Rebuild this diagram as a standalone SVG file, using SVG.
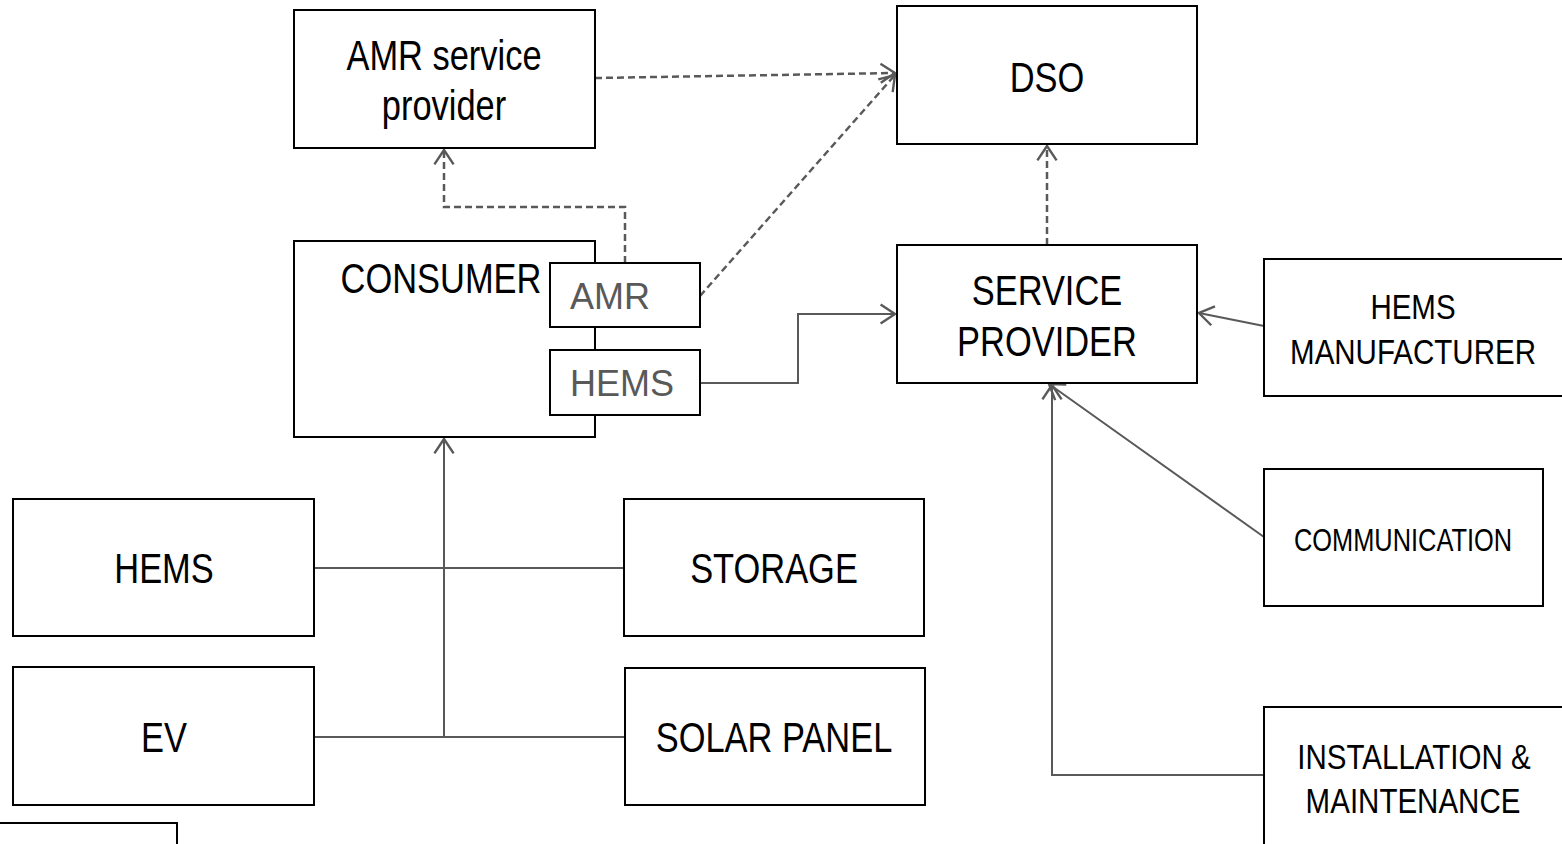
<svg xmlns="http://www.w3.org/2000/svg" width="1562" height="844" viewBox="0 0 1562 844">
<style>
.box{fill:#fff;stroke:#000;stroke-width:2}
.t{font-family:"Liberation Sans",Arial,sans-serif;fill:#000;text-anchor:middle;font-size:42px}
.m{font-size:36px}
.s{font-size:31px}
.g{font-family:"Liberation Sans",Arial,sans-serif;fill:#595959;font-size:36px}
.c{fill:none;stroke:#595959;stroke-width:2}
.d{stroke-dasharray:7,4;stroke-width:2.5}
</style>
<defs>
<marker id="arr" markerUnits="userSpaceOnUse" markerWidth="24" markerHeight="24" viewBox="-14 -10 16 20" refX="0" refY="0" orient="auto">
<path d="M-12,-8 L0,0 L-12,8" fill="none" stroke="#595959" stroke-width="2"/>
</marker>
</defs>
<g id="connectors">
<path class="c d" d="M595,78 L895,73" marker-end="url(#arr)"/>
<path class="c d" d="M700,296 L895,75" marker-end="url(#arr)"/>
<path class="c d" d="M625,263 L625,207 L444,207 L444,150" marker-end="url(#arr)"/>
<path class="c d" d="M1047,245 L1047,146" marker-end="url(#arr)"/>
<path class="c" d="M700,383 L798,383 L798,314 L895,314" marker-end="url(#arr)"/>
<path class="c" d="M1264,326 L1199,313" marker-end="url(#arr)"/>
<path class="c" d="M1264,537 L1049,384" marker-end="url(#arr)"/>
<path class="c" d="M1264,775 L1052,775 L1052,385" marker-end="url(#arr)"/>
<path class="c" d="M444,737 L444,439" marker-end="url(#arr)"/>
<path class="c" d="M314,568 L624,568 M314,737 L625,737"/>
</g>
<g id="amr-service-provider"><rect class="box" x="294" y="10" width="301" height="138"/>
<text class="t" transform="translate(444,70) scale(0.82,1)">AMR service</text><text class="t" transform="translate(444,120) scale(0.82,1)">provider</text></g>
<g id="dso"><rect class="box" x="897" y="6" width="300" height="138"/><text class="t" transform="translate(1047,92) scale(0.82,1)">DSO</text></g>
<g id="consumer"><rect class="box" x="294" y="241" width="301" height="196"/><text class="t" transform="translate(441,293) scale(0.82,1)">CONSUMER</text></g>
<g id="amr"><rect class="box" x="550" y="263" width="150" height="64"/><text class="g" x="570" y="309">AMR</text></g>
<g id="hems-device"><rect class="box" x="550" y="350" width="150" height="65"/><text class="g" x="570" y="396">HEMS</text></g>
<g id="service-provider"><rect class="box" x="897" y="245" width="300" height="138"/>
<text class="t" transform="translate(1047,305) scale(0.82,1)">SERVICE</text><text class="t" transform="translate(1047,356) scale(0.82,1)">PROVIDER</text></g>
<g id="hems-manufacturer"><rect class="box" x="1264" y="259" width="310" height="137"/>
<text class="t m" transform="translate(1413,319) scale(0.82,1)">HEMS</text><text class="t m" transform="translate(1413,364) scale(0.82,1)">MANUFACTURER</text></g>
<g id="communication"><rect class="box" x="1264" y="469" width="279" height="137"/><text class="t s" transform="translate(1403,551) scale(0.82,1)">COMMUNICATION</text></g>
<g id="installation"><rect class="box" x="1264" y="707" width="310" height="150"/>
<text class="t m" transform="translate(1414,769) scale(0.82,1)">INSTALLATION &amp;</text><text class="t m" transform="translate(1413,813) scale(0.82,1)">MAINTENANCE</text></g>
<g id="hems"><rect class="box" x="13" y="499" width="301" height="137"/><text class="t" transform="translate(164,583) scale(0.82,1)">HEMS</text></g>
<g id="ev"><rect class="box" x="13" y="667" width="301" height="138"/><text class="t" transform="translate(164,752) scale(0.82,1)">EV</text></g>
<g id="storage"><rect class="box" x="624" y="499" width="300" height="137"/><text class="t" transform="translate(774,583) scale(0.82,1)">STORAGE</text></g>
<g id="solar-panel"><rect class="box" x="625" y="668" width="300" height="137"/><text class="t" transform="translate(774,752) scale(0.82,1)">SOLAR PANEL</text></g>
<g id="partial-box"><rect class="box" x="-5" y="823" width="182" height="50"/></g>
</svg>
